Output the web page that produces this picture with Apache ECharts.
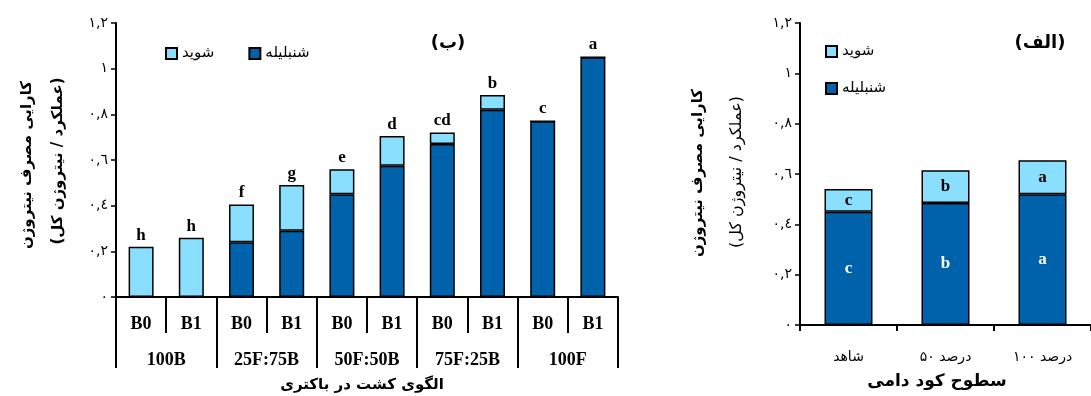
<!DOCTYPE html>
<html>
<head>
<meta charset="utf-8">
<script src="https://cdn.jsdelivr.net/npm/echarts@6/dist/echarts.min.js"></script>
<style>
html,body{margin:0;padding:0;background:#fff;}
#c{width:1091px;height:396px;}
</style>
</head>
<body>
<div id="c"></div>
<script>
// ---- data ----
var leftCategories = ['B0','B1','B0','B1','B0','B1','B0','B1','B0','B1'];
var leftGroups = ['100B','25F:75B','50F:50B','75F:25B','100F'];
var leftFenugreek = [0, 0, 0.24, 0.29, 0.45, 0.575, 0.67, 0.82, 0.77, 1.05];   // شنبلیله
var leftDill      = [0.22, 0.26, 0.165, 0.20, 0.11, 0.13, 0.05, 0.065, 0, 0]; // شوید
var leftLetters   = ['h','h','f','g','e','d','cd','b','c','a'];

var rightCategories = ['شاهد','۵۰ درصد','۱۰۰ درصد'];
var rightFenugreek = [0.45, 0.485, 0.52];
var rightDill      = [0.09, 0.13, 0.135];
var rightLettersFenugreek = ['c','b','a'];
var rightLettersDill      = ['c','b','a'];

var yTickLabels = ['۰','۰,۲','۰,٤','۰,٦','۰,۸','۱','۱,۲'];

var nameFenugreek = 'شنبلیله';
var nameDill = 'شوید';

// ---- style ----
var DARK = '#0062AA';
var LIGHT = '#8ADFFF';
var FA = "'DejaVu Sans', sans-serif";
var SERIF = "'Liberation Serif', 'Times New Roman', serif";

function yAxis(gi){
  return {
    type:'value', gridIndex:gi, min:0, max:1.2, interval:0.2,
    axisLine:{show:true, lineStyle:{color:'#000', width:2}},
    axisTick:{show:true, length:5, lineStyle:{color:'#000', width:1.5}},
    splitLine:{show:false},
    axisLabel:{color:'#000', fontFamily:FA, fontSize:14, margin:8,
      formatter:function(v){ return yTickLabels[Math.round(v/0.2)]; }}
  };
}

// draw each word as its own token so the visual order (number left, word right) is fixed
function tokenLabel(v){
  return v.split(' ').map(function(t){ return '{t|' + t + '}'; }).join('{t| }');
}

var chart = echarts.init(document.getElementById('c'), null, {renderer:'canvas'});
var option = {
  animation:false,
  backgroundColor:'#fff',
  grid:[
    {left:116, top:23, width:502, height:274},
    {left:800, top:23, width:301, height:302}
  ],
  legend:[
    {data:[nameDill, nameFenugreek], left:160, top:41, orient:'horizontal', itemGap:34,
     itemWidth:11, itemHeight:11, icon:'rect', selectedMode:false,
     textStyle:{fontFamily:FA, fontSize:15, color:'#000'}},
    {data:[nameDill, nameFenugreek], left:820, top:39, orient:'vertical', itemGap:22,
     itemWidth:11, itemHeight:11, icon:'rect', selectedMode:false,
     textStyle:{fontFamily:FA, fontSize:15, color:'#000'}}
  ],
  xAxis:[
    {type:'category', gridIndex:0, data:leftCategories, position:'bottom',
     axisLine:{show:true, lineStyle:{color:'#000', width:2}},
     axisTick:{show:true, interval:0, length:36, lineStyle:{color:'#000', width:2}},
     axisLabel:{interval:0, color:'#000', fontFamily:SERIF, fontWeight:'bold', fontSize:18, margin:18}},
    {type:'category', gridIndex:0, data:leftGroups, position:'bottom',
     axisLine:{show:false},
     axisTick:{show:true, interval:0, length:71, lineStyle:{color:'#000', width:2}},
     axisLabel:{interval:0, color:'#000', fontFamily:SERIF, fontWeight:'bold', fontSize:18, margin:54}},
    {type:'category', gridIndex:1, data:rightCategories, position:'bottom',
     axisLine:{show:true, lineStyle:{color:'#000', width:2}},
     axisTick:{show:true, interval:0, length:6, lineStyle:{color:'#000', width:2}},
     axisLabel:{interval:0, color:'#000', fontFamily:FA, fontSize:14, margin:25,
       formatter:tokenLabel,
       rich:{t:{fontFamily:FA, fontSize:14, color:'#000'}}}}
  ],
  yAxis:[yAxis(0), yAxis(1)],
  series:[
    {name:nameFenugreek, type:'bar', xAxisIndex:0, yAxisIndex:0, stack:'L', barWidth:25,
     data:leftFenugreek, itemStyle:{color:DARK, borderColor:'#000', borderWidth:1.5}},
    {name:nameDill, type:'bar', xAxisIndex:0, yAxisIndex:0, stack:'L', barWidth:25,
     data:leftDill, itemStyle:{color:LIGHT, borderColor:'#000', borderWidth:1.5},
     label:{show:true, position:'top', distance:3, color:'#000', fontFamily:SERIF, fontWeight:'bold', fontSize:17,
       formatter:function(p){ return leftLetters[p.dataIndex]; }}},
    {name:nameFenugreek, type:'bar', xAxisIndex:2, yAxisIndex:1, stack:'R', barWidth:48,
     data:rightFenugreek, itemStyle:{color:DARK, borderColor:'#000', borderWidth:1.5},
     label:{show:true, position:'inside', color:'#fff', fontFamily:SERIF, fontWeight:'bold', fontSize:17,
       formatter:function(p){ return rightLettersFenugreek[p.dataIndex]; }}},
    {name:nameDill, type:'bar', xAxisIndex:2, yAxisIndex:1, stack:'R', barWidth:48,
     data:rightDill, itemStyle:{color:LIGHT, borderColor:'#000', borderWidth:1.5},
     label:{show:true, position:'inside', color:'#000', fontFamily:SERIF, fontWeight:'bold', fontSize:17,
       formatter:function(p){ return rightLettersDill[p.dataIndex]; }}}
  ],
  graphic:[
    {type:'text', x:27, y:165, rotation:Math.PI/2,
     style:{text:'کارایی مصرف نیتروژن', fontFamily:FA, fontWeight:'bold', fontSize:15, fill:'#000', align:'center', verticalAlign:'middle'}},
    {type:'text', x:58, y:161, rotation:Math.PI/2,
     style:{text:'(عملکرد / نیتروژن کل)', fontFamily:FA, fontWeight:'bold', fontSize:15, fill:'#000', align:'center', verticalAlign:'middle'}},
    {type:'text', x:698, y:173, rotation:Math.PI/2,
     style:{text:'کارایی مصرف نیتروژن', fontFamily:FA, fontWeight:'bold', fontSize:15, fill:'#000', align:'center', verticalAlign:'middle'}},
    {type:'text', x:737, y:172, rotation:Math.PI/2,
     style:{text:'(عملکرد / نیتروژن کل)', fontFamily:FA, fontSize:16, fill:'#000', align:'center', verticalAlign:'middle'}},
    {type:'text', x:362, y:385,
     style:{text:'الگوی کشت در باکتری', fontFamily:FA, fontWeight:'bold', fontSize:15, fill:'#000', align:'center', verticalAlign:'middle'}},
    {type:'text', x:937, y:382,
     style:{text:'سطوح کود دامی', fontFamily:FA, fontWeight:'bold', fontSize:17, fill:'#000', align:'center', verticalAlign:'middle'}},
    {type:'text', x:448, y:43,
     style:{text:'(ب)', fontFamily:FA, fontWeight:'bold', fontSize:18, fill:'#000', align:'center', verticalAlign:'middle'}},
    {type:'text', x:1040, y:43,
     style:{text:'(الف)', fontFamily:FA, fontWeight:'bold', fontSize:18, fill:'#000', align:'center', verticalAlign:'middle'}}
  ]
};
chart.setOption(option);
</script>
</body>
</html>
